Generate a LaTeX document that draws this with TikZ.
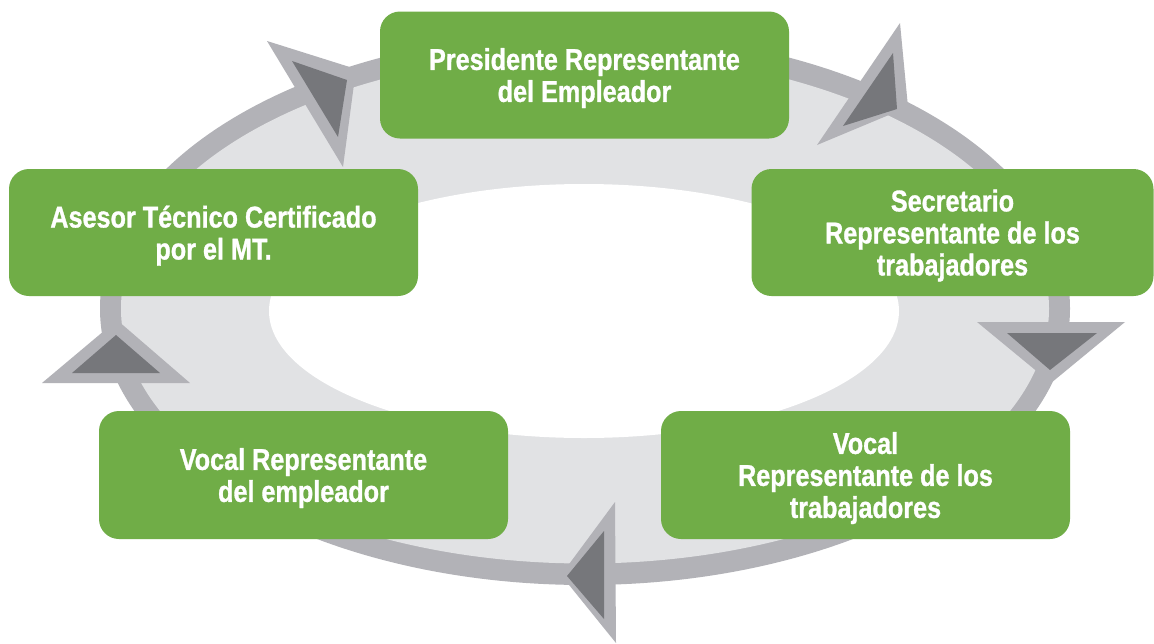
\documentclass[tikz,border=0pt]{standalone}
\usepackage{fontspec}
\setmainfont{Liberation Sans}[FakeStretch=0.84, BoldFeatures={FakeBold=1}]
\definecolor{boxgreen}{HTML}{70AD47}
\definecolor{bandgray}{HTML}{B2B2B7}
\definecolor{ringgray}{HTML}{E1E2E4}
\definecolor{arrowdark}{HTML}{76777B}
\tikzset{
  box/.style={fill=boxgreen, rounded corners=20pt, minimum width=409pt, minimum height=127pt, inner sep=0pt},
  boxtext/.style={text=white, font=\fontsize{30}{32}\selectfont\bfseries, align=center, text depth=0pt, inner sep=0pt},
  arrowout/.style={fill=bandgray},
  arrowin/.style={fill=arrowdark}
}
\begin{document}
\begin{tikzpicture}[x=1pt, y=-1pt]
\useasboundingbox (0,0) rectangle (1154,643);
\fill[white] (0,0) rectangle (1154,643);
% ring
\fill[bandgray] (585,308.5) ellipse [x radius=485pt, y radius=276.5pt];
\fill[ringgray] (585,308.5) ellipse [x radius=464pt, y radius=255pt];
\fill[white] (584,311) ellipse [x radius=315pt, y radius=127pt];
% arrowheads
\fill[arrowout] (267,41) -- (356,69) -- (343,167) -- cycle;
\fill[arrowin] (292,61) -- (347,80) -- (338,137) -- cycle;
\fill[arrowout] (900,23) -- (908,107) -- (817,145) -- cycle;
\fill[arrowin] (893,53) -- (897,109) -- (843,126) -- cycle;
\fill[arrowout] (977,322) -- (1125,322) -- (1051,383) -- cycle;
\fill[arrowin] (1007,333) -- (1097,333) -- (1050,370) -- cycle;
\fill[arrowout] (615,502) -- (616,643) -- (561,575) -- cycle;
\fill[arrowin] (604,531) -- (604,619) -- (567,576) -- cycle;
\fill[arrowout] (42,383) -- (190,383) -- (117,320) -- cycle;
\fill[arrowin] (72,373) -- (160,373) -- (116,335) -- cycle;
% boxes
\node[box] (pres) at (584.5,75) {};
\node[box] (ases) at (213.5,232.5) {};
\node[box, minimum width=402pt] (secr) at (952.5,232.5) {};
\node[box, minimum height=128pt] (vemp) at (303.5,475) {};
\node[box, minimum height=128pt] (vtra) at (865.5,475) {};
% texts
\node[boxtext] (tpres) at (pres.center) {Presidente Representante\\del Empleador};
\node[boxtext] (tases) at (ases.center) {Asesor Técnico Certificado\\por el MT.};
\node[boxtext] (tsecr) at (secr.center) {Secretario\\Representante de los\\trabajadores};
\node[boxtext] (tvemp) at (vemp.center) {Vocal Representante\\del empleador};
\node[boxtext] (tvtra) at (vtra.center) {Vocal\\Representante de los\\trabajadores};
\end{tikzpicture}
\end{document}
